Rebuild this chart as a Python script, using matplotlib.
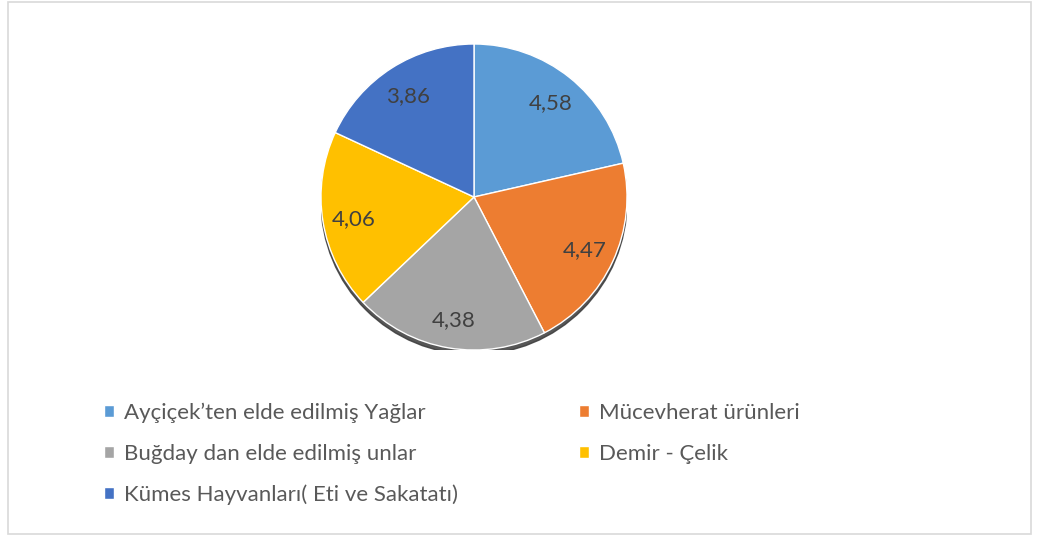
import matplotlib.pyplot as plt
from matplotlib.patches import Rectangle, Circle

# data
categories = [
    "Ayçiçek’ten elde edilmiş Yağlar",
    "Mücevherat ürünleri",
    "Buğday dan elde edilmiş unlar",
    "Demir - Çelik",
    "Kümes Hayvanları( Eti ve Sakatatı)",
]
values = [4.58, 4.47, 4.38, 4.06, 3.86]
colors = ["#5B9BD5", "#ED7D31", "#A5A5A5", "#FFC000", "#4472C4"]

plt.rcParams['font.family'] = ['Lato', 'DejaVu Sans']

W, H = 1037, 535
fig = plt.figure(figsize=(W / 100, H / 100), dpi=100)

# pie axes placed in pixel terms
cx, cy, r = 474, 197, 153
ax = fig.add_axes([(cx - r) / W, (H - cy - r) / H, 2 * r / W, 2 * r / H])
ax.set_aspect('equal')
ax.axis('off')

# soft shadow under the pie
ax.add_patch(Circle((0.0, -0.03), 1.0, color='#3a3a3a', alpha=0.85, zorder=0))

labels = [f"{v:.2f}".replace('.', ',') for v in values]
wedges, texts = ax.pie(
    values, colors=colors, startangle=90, counterclock=False,
    labels=labels, labeldistance=0.8, radius=1.0,
    wedgeprops=dict(edgecolor='white', linewidth=1.0),
    textprops=dict(fontsize=16, color='#404040'),
)
for t in texts:
    t.set_horizontalalignment('center')
    t.set_verticalalignment('center_baseline')
ax.set_xlim(-1.0, 1.0)
ax.set_ylim(-1.0, 1.0)

# legend, row-major order like the original
order = [0, 2, 4, 1, 3]
fig.legend([wedges[i] for i in order], [categories[i] for i in order],
           ncol=2, loc='upper left', bbox_to_anchor=(84 / W, 1 - 383 / H),
           frameon=False, fontsize=16, labelcolor='#595959',
           handlelength=0.45, handleheight=0.45, handletextpad=0.45,
           labelspacing=0.92, columnspacing=5.45)

# light frame around the chart
fig.patches.append(Rectangle((8 / W, 1 / H), 1023 / W, 532 / H,
                             transform=fig.transFigure, fill=False,
                             edgecolor='#D9D9D9', linewidth=1.2))

fig.savefig('out.png', dpi=100, facecolor='white')
